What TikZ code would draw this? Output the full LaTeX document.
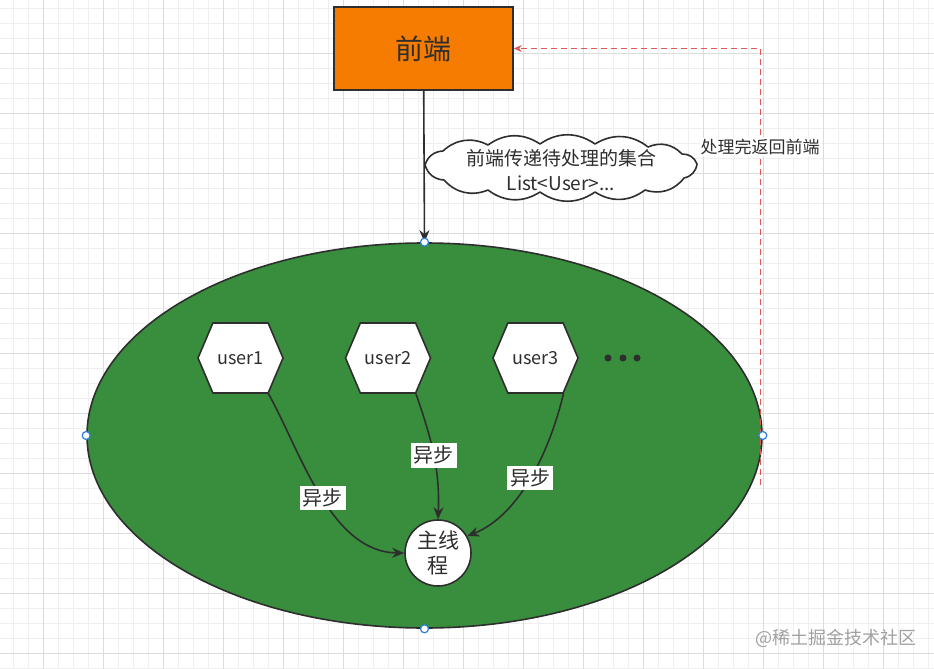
\documentclass[tikz,border=0pt]{standalone}
\usepackage{fontspec}
\setmainfont{Noto Sans CJK SC}
\usetikzlibrary{arrows.meta, shapes.geometric, shapes.symbols}
\definecolor{gridminor}{HTML}{EFEFEF}
\definecolor{gridmajor}{HTML}{DCDCDC}
\definecolor{ink}{HTML}{2E2E2E}
\definecolor{frontorange}{HTML}{F57C00}
\definecolor{poolgreen}{HTML}{388E3C}
\definecolor{backred}{HTML}{E05555}
\definecolor{handleblue}{HTML}{2A7FE0}
\definecolor{wmgray}{HTML}{A0A0A0}

\begin{document}
\begin{tikzpicture}[x=1pt, y=-1pt,
    userbox/.style={shape=signal, signal to=west and east, signal pointer angle=134,
      draw=ink, line width=1.6pt, fill=white, minimum width=85pt, minimum height=70pt,
      inner sep=0pt, text=ink, font=\fontsize{18}{22}\selectfont},
    async/.style={fill=white, inner sep=3pt, text=ink, font=\fontsize{20}{22}\selectfont},
    flow/.style={draw=ink, line width=1.6pt, -{Stealth[length=12pt, width=10pt]}},
    puff/.style={bend left=35},
    grip/.style={draw=handleblue, fill=white, line width=1.2pt}]
        \useasboundingbox (0,0) rectangle (934,669);
        % grid
        \foreach \x in {13,28,...,928} \draw[gridminor] (\x,0) -- (\x,669);
        \foreach \y in {8,23,...,668} \draw[gridminor] (0,\y) -- (934,\y);
        \foreach \x in {43,103,...,883} \draw[gridmajor] (\x,0) -- (\x,669);
        \foreach \y in {53,113,...,653} \draw[gridmajor] (0,\y) -- (934,\y);

        \node[draw=ink, line width=1.6pt, fill=frontorange, minimum width=179pt, minimum height=83pt,
          text=ink, font=\fontsize{28}{30}\selectfont] (fe) at (423.5,48.5) {前端};
        \node[ellipse, draw=ink, line width=1.6pt, fill=poolgreen, minimum width=675pt,
          minimum height=385pt, inner sep=0pt] (pool) at (424.5,435.5) {};

        \draw[flow] (fe) -- (pool.north);
        % cloud
        \draw[ink, line width=1.6pt, fill=white, line join=round]
          (425,165) to[puff] (443,151) to[puff] (488,145) to[puff] (540,144)
          to[puff] (595,144) to[puff] (648,147) to[puff] (682,154) to[puff] (697,164)
          to[puff] (684,178) to[puff] (645,190) to[puff] (595,192) to[puff] (540,192)
          to[puff] (488,190) to[puff] (444,180) to[puff] (425,165);
        \node[align=center, inner sep=0pt, text=ink, font=\fontsize{19}{25}\selectfont] (msg)
          at (561,170) {前端传递待处理的集合\\List<User>...};

        % return path
        \coordinate (ret) at (760,485);
        \draw[backred, line width=0.9pt, dash pattern=on 6pt off 4pt, -{Stealth[length=8pt, width=7pt]}]
          (ret) |- (fe.east) node[pos=0.387, fill=white, inner sep=1pt, text=ink,
          font=\fontsize{17}{20}\selectfont] {处理完返回前端};

        \node[userbox] (u1) at (240.5,358) {user1};
        \node[userbox] (u2) at (388,358) {user2};
        \node[userbox] (u3) at (535.5,358) {user3};
        \foreach \x in {608,623,637} \fill[ink] (\x,358) circle[radius=3.5pt];

        \node[circle, draw=ink, line width=1.6pt, fill=white, minimum size=66pt, inner sep=0pt,
          align=center, text=ink, font=\fontsize{21}{25}\selectfont] (main) at (438,553) {主线\\程};

        \draw[flow] (u1.-52) .. controls (300,450) and (330,552) .. (main.west)
          node[async, pos=0.52] {异步};
        \draw[flow] (u2.-52) .. controls (432,440) and (440,470) .. (main.north)
          node[async, pos=0.5] {异步};
        \draw[flow] (u3.-52) .. controls (550,450) and (520,515) .. (main.30)
          node[async, pos=0.5] {异步};

        % selection handles
        \foreach \a in {north, south, east, west} \draw[grip] (pool.\a) circle[radius=4pt];

        \node[text=wmgray, font=\fontsize{18}{20}\selectfont] (wm) at (836,638) {@稀土掘金技术社区};
      \end{tikzpicture}
\end{document}
